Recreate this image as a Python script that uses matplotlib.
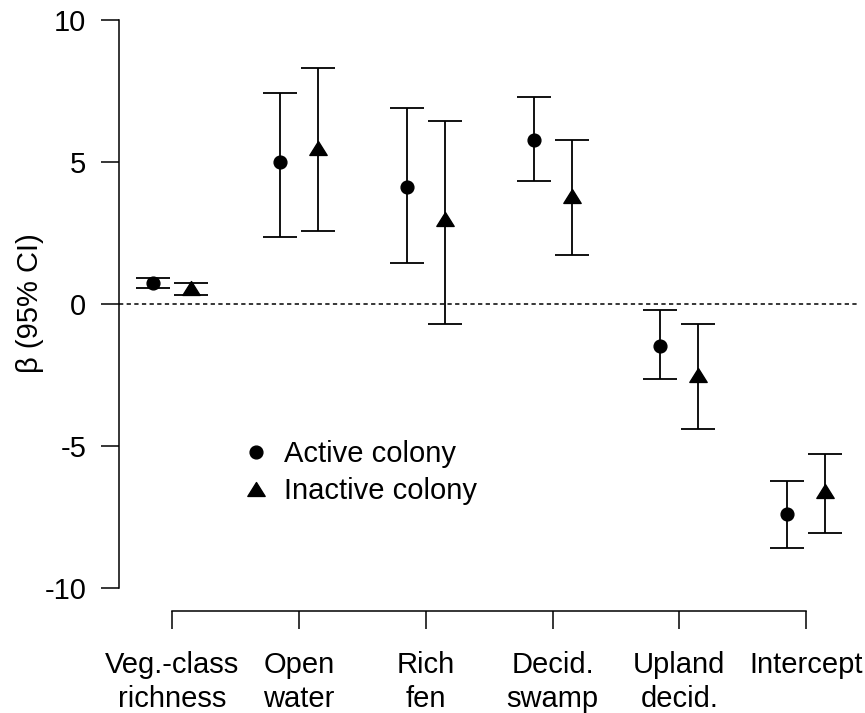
import numpy as np
import matplotlib.pyplot as plt
from matplotlib.path import Path

plt.rcParams['font.family'] = ['Liberation Sans', 'DejaVu Sans']

# predictors shown on the x axis
categories = ["Veg.-class\nrichness", "Open\nwater", "Rich\nfen",
              "Decid.\nswamp", "Upland\ndecid.", "Intercept"]

# active colony: estimate and 95% CI
active_est = [0.73, 4.99, 4.12, 5.77, -1.47, -7.39]
active_lo = [0.55, 2.37, 1.45, 4.34, -2.64, -8.60]
active_hi = [0.93, 7.42, 6.91, 7.28, -0.22, -6.23]

# inactive colony: estimate and 95% CI
inactive_est = [0.55, 5.48, 3.00, 3.79, -2.50, -6.60]
inactive_lo = [0.32, 2.57, -0.69, 1.71, -4.41, -8.05]
inactive_hi = [0.74, 8.30, 6.44, 5.79, -0.69, -5.27]

yticks = [-10, -5, 0, 5, 10]

# triangle a bit wider than tall, like R's pch 17
tri = Path([(-1, -0.8), (1, -0.8), (0, 0.8), (-1, -0.8)],
           [Path.MOVETO, Path.LINETO, Path.LINETO, Path.CLOSEPOLY])

fig = plt.figure(figsize=(8.65, 7.13), dpi=100)
ax = fig.add_axes([119.3 / 865, 1 - 610.7 / 713, (859 - 119.3) / 865, 613.4 / 713])

x = np.arange(1, len(categories) + 1)
off = 0.15


def draw_series(xpos, est, lo, hi, marker, ms, label):
    est = np.array(est)
    yerr = [est - np.array(lo), np.array(hi) - est]
    ax.errorbar(xpos, est, yerr=yerr, fmt='none', ecolor='black',
                elinewidth=1.3, capsize=12.5, capthick=1.3, clip_on=False)
    ax.plot(xpos, est, linestyle='none', marker=marker, ms=ms, color='black',
            label=label, clip_on=False)


draw_series(x - off, active_est, active_lo, active_hi, 'o', 9.2, "Active colony")
draw_series(x + off, inactive_est, inactive_lo, inactive_hi, tri, 12.5, "Inactive colony")

ax.axhline(0, color='black', lw=1.1, dashes=(2.8, 2.2))

ax.set_xlim(0.584, 6.416)
ax.set_ylim(-10.8, 10.8)

for s in ['top', 'right']:
    ax.spines[s].set_visible(False)
ax.spines['left'].set_bounds(-10, 10)
ax.spines['bottom'].set_bounds(1, 6)
for s in ['left', 'bottom']:
    ax.spines[s].set_linewidth(1.1)

fs = 21

ax.set_yticks(yticks)
ax.set_yticklabels([str(v) for v in yticks])
ax.set_xticks(x)
ax.set_xticklabels(categories, linespacing=1.3)
ax.tick_params(axis='both', length=12.7, width=1.1, labelsize=fs)
ax.tick_params(axis='y', pad=11)
ax.tick_params(axis='x', pad=16)

fig.text(30 / 865, 1 - 303 / 713, "β (95% CI)", rotation=90, fontsize=fs,
         ha='center', va='center')

leg = ax.legend(loc='upper left', bbox_to_anchor=(243 / 865, 1 - 440 / 713),
                bbox_transform=fig.transFigure, frameon=False, fontsize=fs,
                handlelength=0.9, handletextpad=0.5, labelspacing=0.3,
                borderpad=0, borderaxespad=0, markerscale=1.0)

fig.savefig("out.png", dpi=100)
